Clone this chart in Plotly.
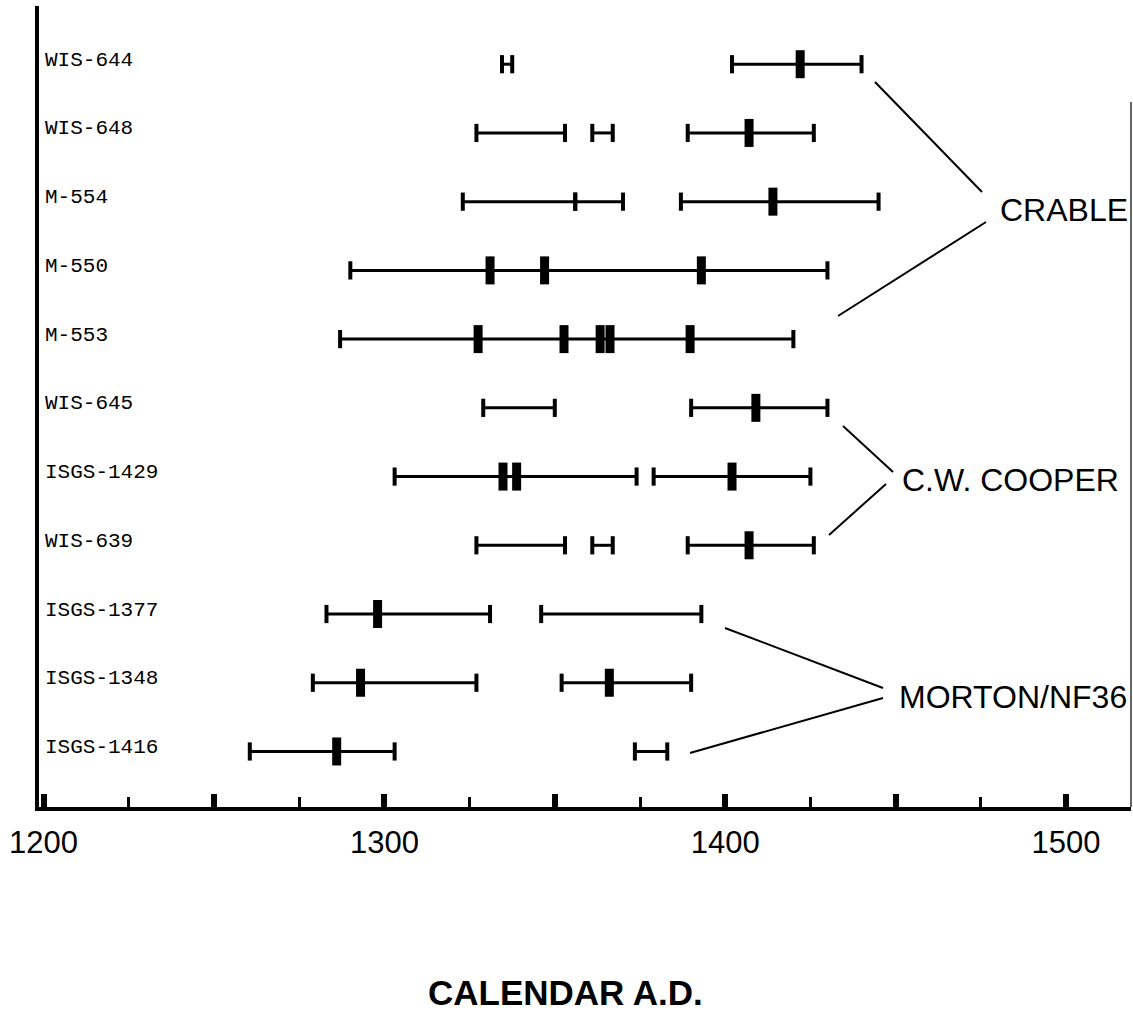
import plotly.graph_objects as go

# ---- data -------------------------------------------------------------
labels = ["WIS-644", "WIS-648", "M-554", "M-550", "M-553", "WIS-645",
          "ISGS-1429", "WIS-639", "ISGS-1377", "ISGS-1348", "ISGS-1416"]

# calibrated 2-sigma ranges (calendar A.D.)
seg_label = ["WIS-644", "WIS-644",
             "WIS-648", "WIS-648", "WIS-648",
             "M-554", "M-554", "M-554",
             "M-550",
             "M-553",
             "WIS-645", "WIS-645",
             "ISGS-1429", "ISGS-1429",
             "WIS-639", "WIS-639", "WIS-639",
             "ISGS-1377", "ISGS-1377",
             "ISGS-1348", "ISGS-1348",
             "ISGS-1416", "ISGS-1416"]
seg_start = [1334.5, 1402,
             1327, 1361, 1389,
             1323, 1356, 1387,
             1290,
             1287,
             1329, 1390,
             1303, 1379,
             1327, 1361, 1389,
             1283, 1346,
             1279, 1352,
             1260.5, 1373.5]
seg_end = [1337.5, 1440,
           1353, 1367, 1426,
           1356, 1370, 1445,
           1430,
           1420,
           1350, 1430,
           1374, 1425,
           1353, 1367, 1426,
           1331, 1393,
           1327, 1390,
           1303, 1383]

# calibration intercepts
icpt_label = ["WIS-644", "WIS-648", "M-554",
              "M-550", "M-550", "M-550",
              "M-553", "M-553", "M-553", "M-553", "M-553",
              "WIS-645",
              "ISGS-1429", "ISGS-1429", "ISGS-1429",
              "WIS-639",
              "ISGS-1377",
              "ISGS-1348", "ISGS-1348",
              "ISGS-1416"]
icpt_year = [1422, 1407, 1414,
             1331, 1347, 1393,
             1327.5, 1352.7, 1363.3, 1366.2, 1389.7,
             1409,
             1334.8, 1338.8, 1402,
             1407,
             1298,
             1293, 1366,
             1286]

tick_major = [1200, 1250, 1300, 1350, 1400, 1450, 1500]
tick_text = ["1200", "", "1300", "", "1400", "", "1500"]
tick_minor = [1225, 1275, 1325, 1375, 1425, 1475]

group_names = ["CRABLE", "C.W. COOPER", "MORTON/NF36"]

# ---- layout helpers (decoration placement, axis units) -----------------
group_text_pos = [(1480.0, 2.121), (1451.3, 6.050), (1450.4, 9.207)]
connectors = [
    [((1443.96, 0.259), (1475.35, 1.859)), ((1476.53, 2.296), (1433.10, 3.664))],
    [((1434.57, 5.264), (1449.24, 5.934)), ((1447.18, 6.108), (1430.46, 6.850))],
    [((1399.94, 8.203), (1446.30, 9.076)), ((1389.67, 10.022), (1446.30, 9.222))],
]

# ---- figure -----------------------------------------------------------
xs, ys = [], []
for lab, s, e in zip(seg_label, seg_start, seg_end):
    xs += [s, e, None]
    ys += [lab, lab, None]

fig = go.Figure()
fig.add_trace(go.Scatter(
    x=xs, y=ys, mode="lines+markers",
    line=dict(color="black", width=3),
    marker=dict(symbol="line-ns", size=13, color="black",
                line=dict(width=4, color="black")),
    hoverinfo="skip", showlegend=False))

fig.add_trace(go.Scatter(
    x=icpt_year, y=icpt_label, mode="markers",
    marker=dict(symbol="line-ns", size=20, color="black",
                line=dict(width=9, color="black")),
    showlegend=False))

shapes = []
for pairs in connectors:
    for (x0, y0), (x1, y1) in pairs:
        shapes.append(dict(type="line", xref="x", yref="y",
                           x0=x0, y0=y0, x1=x1, y1=y1,
                           line=dict(color="black", width=2)))
# right page edge
shapes.append(dict(type="line", xref="paper", yref="paper",
                   x0=1.0, x1=1.0, y0=0, y1=0.88,
                   line=dict(color="#333333", width=1.5)))

annotations = []
# sample labels, inside the plot next to the y axis
for lab in labels:
    annotations.append(dict(text=lab, x=0.004, y=lab, xref="paper", yref="y",
                            xanchor="left", yanchor="middle", yshift=4,
                            showarrow=False,
                            font=dict(family="Liberation Mono", size=21,
                                      color="black")))
for name, (gx, gy) in zip(group_names, group_text_pos):
    annotations.append(dict(text=name, x=gx, y=gy, xref="x", yref="y",
                            xanchor="left", yanchor="middle", showarrow=False,
                            font=dict(family="Liberation Sans", size=32,
                                      color="black")))
annotations.append(dict(text="<b>CALENDAR A.D.</b>", x=0.4826, y=-0.2322,
                        xref="paper", yref="paper", xanchor="center",
                        yanchor="middle", showarrow=False,
                        font=dict(family="Liberation Sans", size=35,
                                  color="black")))

fig.update_layout(
    width=1133, height=1020,
    margin=dict(l=39, r=2, t=6, b=213),
    paper_bgcolor="white", plot_bgcolor="white",
    shapes=shapes, annotations=annotations,
    xaxis=dict(range=[1198.65, 1519.07],
               tickvals=tick_major, ticktext=tick_text,
               ticks="inside", ticklen=13, tickwidth=6, tickcolor="black",
               minor=dict(tickvals=tick_minor, ticks="inside", ticklen=10,
                          tickwidth=2.5, tickcolor="black", showgrid=False),
               showline=True, linewidth=4, linecolor="black",
               showgrid=False, zeroline=False,
               ticklabelstandoff=5,
               tickfont=dict(family="Liberation Sans", size=31,
                             color="black")),
    yaxis=dict(type="category", categoryarray=labels,
               range=[10.808, -0.847],
               showline=True, linewidth=4, linecolor="black",
               ticks="", showticklabels=False,
               showgrid=False, zeroline=False),
)

fig.write_html("out.html",
               config={"displayModeBar": False},
               post_script="document.body.style.margin='0';"
                           "document.body.style.overflow='hidden';")
